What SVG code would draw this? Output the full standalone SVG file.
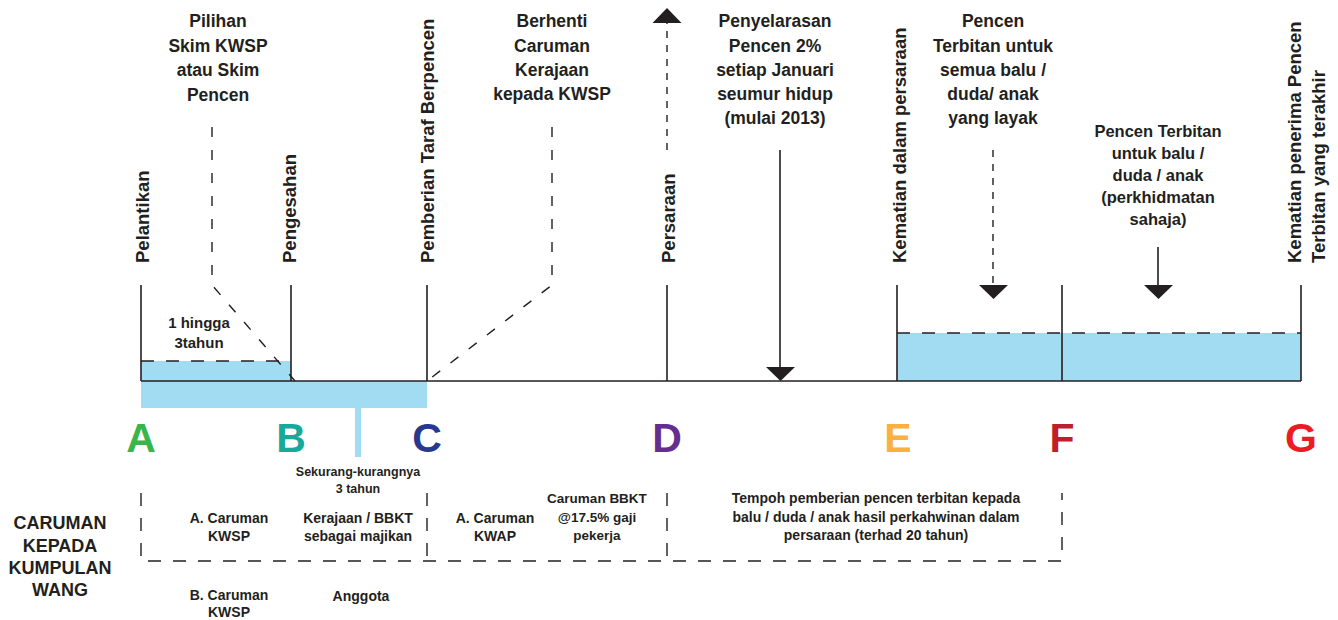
<svg xmlns="http://www.w3.org/2000/svg" width="1338" height="620" viewBox="0 0 1338 620">
<style>
text{font-family:"Liberation Sans",Arial,sans-serif;font-weight:bold;fill:#231F20}
.top{font-size:17.5px;text-anchor:middle}
.rot{font-size:18.5px}
.mid{font-size:16.5px;text-anchor:middle}
.sm{font-size:14px;text-anchor:middle}
.xs{font-size:12.5px;text-anchor:middle}
.big{font-size:18px;text-anchor:middle}
.let{font-size:41px;text-anchor:middle}
.ln{stroke:#231F20;stroke-width:1.6;fill:none}
.dash{stroke:#231F20;stroke-width:1.4;fill:none;stroke-dasharray:10 13}
.fdash{stroke:#231F20;stroke-width:1.4;fill:none;stroke-dasharray:7 7}
.bdash{stroke:#231F20;stroke-width:1.4;fill:none;stroke-dasharray:13 12}
.blue{fill:#A1DCF2}
.head{fill:#231F20}
</style>
<rect width="1338" height="620" fill="#ffffff"/>

<g id="bands">
<rect class="blue" x="141" y="361" width="150" height="20"/>
<rect class="blue" x="141" y="381" width="286" height="27"/>
<rect class="blue" x="355" y="407" width="6" height="50"/>
<rect class="blue" x="897" y="333" width="404" height="48"/>
<line class="bdash" x1="141" y1="361" x2="291" y2="361"/>
<line class="bdash" x1="897" y1="333" x2="1301" y2="333"/>
</g>

<g id="connectors">
<line class="ln" x1="141" y1="381" x2="1301" y2="381"/>
<line class="ln" x1="141" y1="285" x2="141" y2="381"/>
<line class="ln" x1="291" y1="285" x2="291" y2="381"/>
<line class="ln" x1="427" y1="285" x2="427" y2="381"/>
<line class="ln" x1="667" y1="285" x2="667" y2="381"/>
<line class="ln" x1="897" y1="285" x2="897" y2="381"/>
<line class="ln" x1="1062" y1="285" x2="1062" y2="381"/>
<line class="ln" x1="1301" y1="285" x2="1301" y2="381"/>
<polyline class="dash" points="212,127 212,285 295,381"/>
<polyline class="dash" points="552,127 552,285 427,381"/>
<line class="fdash" x1="667" y1="150" x2="667" y2="22"/>
<polygon class="head" points="652.5,23 681.5,23 667,8"/>
<line class="ln" x1="780" y1="150" x2="780" y2="368"/>
<polygon class="head" points="766,367 795,367 780.5,381"/>
<line class="fdash" x1="993" y1="150" x2="993" y2="286"/>
<polygon class="head" points="979,285 1008,285 993.5,299"/>
<line class="ln" x1="1158" y1="247" x2="1158" y2="286"/>
<polygon class="head" points="1144,285 1173,285 1158.5,299"/>
<polyline class="bdash" points="141,493 141,561 1062,561 1062,493"/>
<line class="bdash" x1="427" y1="493" x2="427" y2="561"/>
<line class="bdash" x1="667" y1="493" x2="667" y2="561"/>
</g>

<g id="event-labels">
<text class="rot" transform="translate(149,263) rotate(-90)">Pelantikan</text>
<text class="rot" transform="translate(296,263) rotate(-90)">Pengesahan</text>
<text class="rot" transform="translate(434,263) rotate(-90)">Pemberian Taraf Berpencen</text>
<text class="rot" transform="translate(675,263) rotate(-90)">Persaraan</text>
<text class="rot" transform="translate(906,263) rotate(-90)">Kematian dalam persaraan</text>
<text class="rot" transform="translate(1301,263) rotate(-90)">Kematian penerima Pencen</text>
<text class="rot" transform="translate(1325,263) rotate(-90)">Terbitan yang terakhir</text>
</g>

<g id="note-pilihan">
<text class="top" x="218" y="27">Pilihan</text>
<text class="top" x="218" y="52">Skim KWSP</text>
<text class="top" x="218" y="76">atau Skim</text>
<text class="top" x="218" y="101">Pencen</text>
</g>
<g id="note-berhenti">
<text class="top" x="552" y="27">Berhenti</text>
<text class="top" x="552" y="52">Caruman</text>
<text class="top" x="552" y="76">Kerajaan</text>
<text class="top" x="552" y="100">kepada KWSP</text>
</g>
<g id="note-penyelarasan">
<text class="top" x="775" y="27">Penyelarasan</text>
<text class="top" x="775" y="52">Pencen 2%</text>
<text class="top" x="775" y="76">setiap Januari</text>
<text class="top" x="775" y="100">seumur hidup</text>
<text class="top" x="775" y="124">(mulai 2013)</text>
</g>
<g id="note-pencen-semua">
<text class="top" x="993" y="27">Pencen</text>
<text class="top" x="993" y="52">Terbitan untuk</text>
<text class="top" x="993" y="76">semua balu /</text>
<text class="top" x="993" y="100">duda/ anak</text>
<text class="top" x="993" y="124">yang layak</text>
</g>
<g id="note-pencen-perkhidmatan">
<text class="mid" x="1158" y="137">Pencen Terbitan</text>
<text class="mid" x="1158" y="159">untuk balu /</text>
<text class="mid" x="1158" y="181">duda / anak</text>
<text class="mid" x="1158" y="203">(perkhidmatan</text>
<text class="mid" x="1158" y="225">sahaja)</text>
</g>
<g id="note-hingga">
<text class="sm" x="199" y="328" style="font-size:15px">1 hingga</text>
<text class="sm" x="199" y="348" style="font-size:15px">3tahun</text>
</g>

<g id="letters">
<text class="let" x="141" y="452" fill="#39B54A" style="fill:#39B54A">A</text>
<text class="let" x="291" y="452" style="fill:#17A99A">B</text>
<text class="let" x="427" y="452" style="fill:#283891">C</text>
<text class="let" x="667" y="452" style="fill:#662D91">D</text>
<text class="let" x="898" y="452" style="fill:#FBB040">E</text>
<text class="let" x="1062" y="452" style="fill:#BE1E2D">F</text>
<text class="let" x="1301" y="452" style="fill:#ED1C24">G</text>
</g>

<g id="note-sekurang">
<text class="xs" x="358" y="476">Sekurang-kurangnya</text>
<text class="xs" x="358" y="493">3 tahun</text>
</g>
<g id="caruman-title">
<text class="big" x="60" y="529">CARUMAN</text>
<text class="big" x="60" y="552">KEPADA</text>
<text class="big" x="60" y="574">KUMPULAN</text>
<text class="big" x="60" y="596">WANG</text>
</g>
<g id="box-kwsp">
<text class="sm" x="229" y="523">A. Caruman</text>
<text class="sm" x="229" y="541">KWSP</text>
<text class="sm" x="358" y="523">Kerajaan / BBKT</text>
<text class="sm" x="358" y="541">sebagai majikan</text>
</g>
<g id="below-kwsp">
<text class="sm" x="229" y="600">B. Caruman</text>
<text class="sm" x="229" y="617">KWSP</text>
<text class="sm" x="361" y="601">Anggota</text>
</g>
<g id="box-kwap">
<text class="sm" x="495" y="523">A. Caruman</text>
<text class="sm" x="495" y="541">KWAP</text>
<text class="sm" x="597" y="503" style="font-size:13.5px">Caruman BBKT</text>
<text class="sm" x="597" y="522" style="font-size:13.5px">@17.5% gaji</text>
<text class="sm" x="597" y="540" style="font-size:13.5px">pekerja</text>
</g>
<g id="box-tempoh">
<text class="sm" x="876" y="503">Tempoh pemberian pencen terbitan kepada</text>
<text class="sm" x="876" y="522">balu / duda / anak hasil perkahwinan dalam</text>
<text class="sm" x="876" y="540">persaraan (terhad 20 tahun)</text>
</g>
</svg>
